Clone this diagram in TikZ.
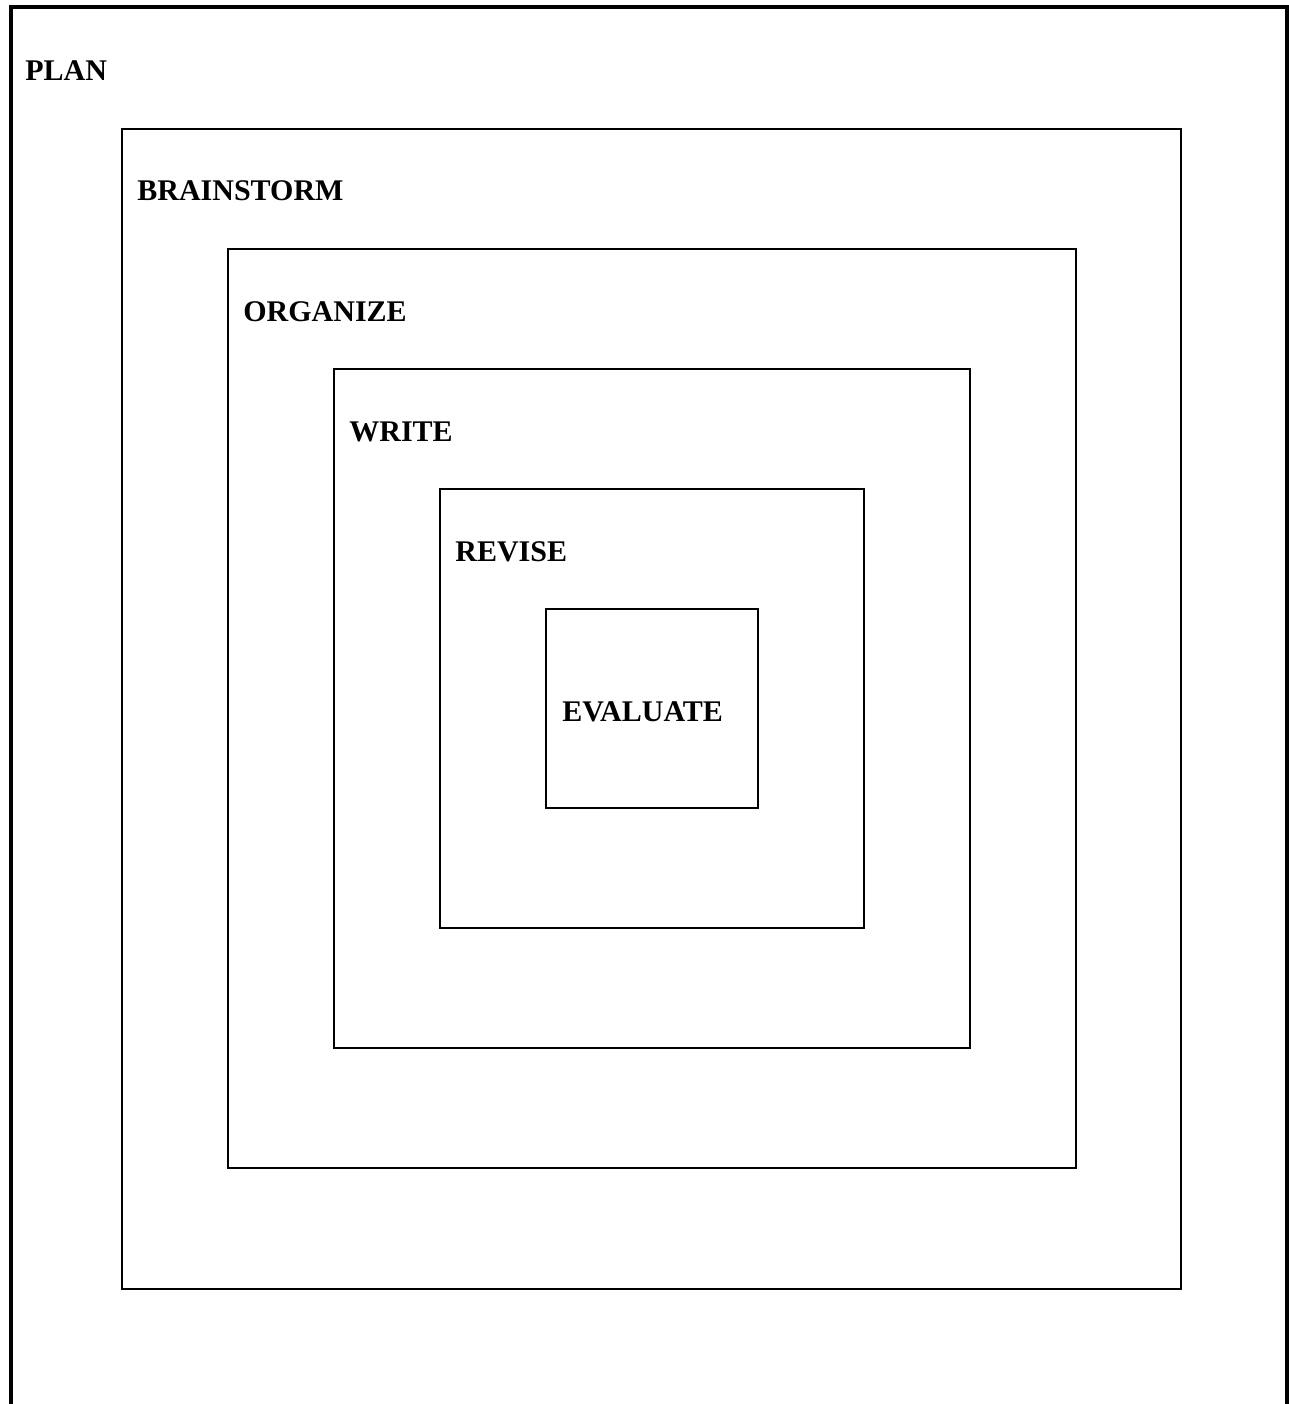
\documentclass[tikz,border=0pt]{standalone}
\usepackage{fontspec}
\setmainfont{Liberation Serif}
\begin{document}
\begin{tikzpicture}[x=0.5pt,y=-0.5pt,
  box/.style={draw, line width=1pt, inner sep=0pt},
  lbl/.style={anchor=base west, inner sep=0pt, font=\fontsize{15}{18}\selectfont\bfseries}]
\useasboundingbox (0,0) rectangle (1289,1404);
% outer frame, open at the bottom
\coordinate (fbl) at (11,1406);
\coordinate (ftl) at (11,7);
\coordinate (ftr) at (1287,7);
\coordinate (fbr) at (1287,1406);
\draw[line width=2.2pt] (fbl) -- (ftl) -- (ftr) -- (fbr);
\node[lbl] (plan) at (25,80) {PLAN};
% nested boxes
\node[box, minimum width=529.5pt, minimum height=580pt] (b1) at (651.5,709) {};
\node[lbl] (brainstorm) at (137,200) {BRAINSTORM};
\node[box, minimum width=424pt, minimum height=459.5pt] (b2) at (652,708.5) {};
\node[lbl] (organize) at (243,321) {ORGANIZE};
\node[box, minimum width=318pt, minimum height=339.5pt] (b3) at (652,708.5) {};
\node[lbl] (write) at (349,441) {WRITE};
\node[box, minimum width=212pt, minimum height=219.5pt] (b4) at (652,708.5) {};
\node[lbl] (revise) at (455,561) {REVISE};
\node[box, minimum width=106pt, minimum height=99.5pt] (b5) at (652,708.5) {};
\node[lbl] (evaluate) at (562,721) {EVALUATE};
\end{tikzpicture}
\end{document}
